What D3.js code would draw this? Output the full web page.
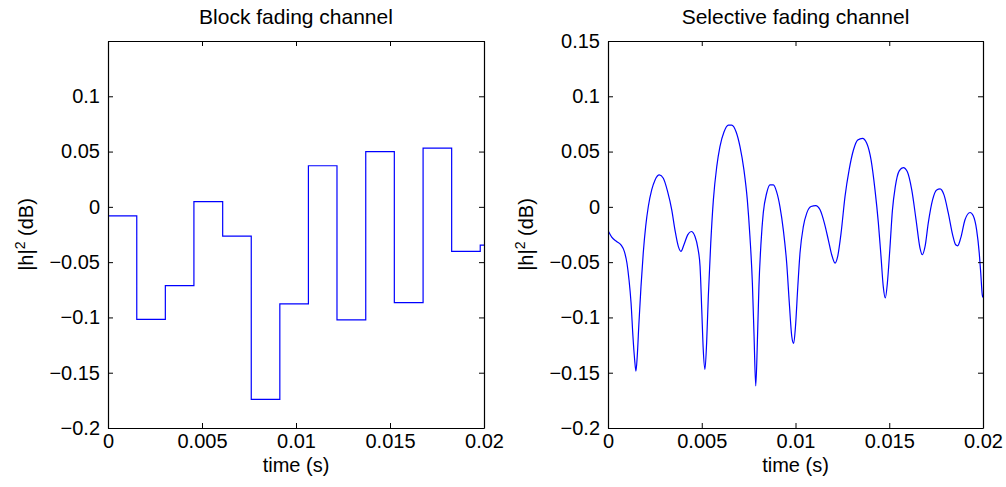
<!DOCTYPE html>
<html><head><meta charset="utf-8">
<script src="https://cdn.jsdelivr.net/npm/d3@7"></script>
<style>
body{margin:0;background:#fff}
svg text{font-family:"Liberation Sans",Arial,Helvetica,sans-serif;fill:#000}
</style>
</head><body>
<svg id="chart" width="1006" height="487"></svg>
<script>
// ---- data ----
const xTicks = [0, 0.005, 0.01, 0.015, 0.02];
const xTickLabels = ["0", "0.005", "0.01", "0.015", "0.02"];
const yTicksLeft = [-0.2, -0.15, -0.1, -0.05, 0, 0.05, 0.1];
const yTicksRight = [-0.2, -0.15, -0.1, -0.05, 0, 0.05, 0.1, 0.15];
const yTickLabels = ["\u22120.2", "\u22120.15", "\u22120.1", "\u22120.05", "0", "0.05", "0.1", "0.15"];
const titles = ["Block fading channel", "Selective fading channel"];
const xLabel = "time (s)";

// Block fading: start time of each block and its level (dB)
const blockStart = [0, 0.00153, 0.00305, 0.00457, 0.0061, 0.00762, 0.00914, 0.01066, 0.01218, 0.01371, 0.01523, 0.01676, 0.01828, 0.0198];
const blockLevel = [-0.0082, -0.1017, -0.0713, 0.0048, -0.0265, -0.1742, -0.0878, 0.0372, -0.1023, 0.0499, -0.0866, 0.0531, -0.0403, -0.0346];

// Selective fading: sampled curve
const selTime = [0, 0.0002, 0.00046, 0.00069, 0.00087, 0.00101, 0.00112, 0.00123, 0.00133, 0.00142, 0.00149, 0.00156, 0.00165, 0.00176, 0.00188, 0.00201, 0.00215, 0.00233, 0.00251, 0.00274, 0.00295, 0.00318, 0.0034, 0.00357, 0.00375, 0.00389, 0.00405, 0.00425, 0.00444, 0.00464, 0.0048,
  0.00491, 0.005, 0.00508, 0.00517, 0.00526, 0.00535, 0.00548, 0.00562, 0.0058, 0.00597, 0.00619, 0.00642, 0.0066, 0.00683, 0.00704, 0.00725, 0.00743, 0.00757, 0.0077, 0.00779, 0.00788, 0.00797, 0.00805, 0.00816, 0.00828, 0.00846, 0.00864, 0.00882, 0.00899, 0.00917, 0.00935, 0.00953, 0.00967, 0.0098, 0.0099,
  0.01, 0.01012, 0.01024, 0.01042, 0.0106, 0.01083, 0.01108, 0.01131, 0.01154, 0.01175, 0.01193, 0.01211, 0.01225, 0.01243, 0.01264, 0.01286, 0.01309, 0.01332, 0.01357, 0.0138, 0.01403, 0.01424, 0.01442, 0.01456, 0.01468, 0.01479, 0.0149, 0.01503, 0.01517, 0.01532,
  0.01554, 0.01575, 0.01596, 0.0162, 0.01643, 0.01664, 0.01676, 0.01691, 0.01708, 0.01731, 0.01753, 0.01771, 0.01792, 0.01815, 0.01838, 0.01854, 0.01865, 0.01881, 0.01904, 0.01931, 0.01948, 0.01966, 0.0198, 0.01988, 0.01996, 0.02];
const selLevel = [-0.0214, -0.0274, -0.0313, -0.0343, -0.0403, -0.0508, -0.0659, -0.0869, -0.117, -0.138, -0.1486, -0.135, -0.105, -0.0719, -0.0418, -0.0177, 0.0003, 0.0153, 0.0244, 0.0289, 0.0259, 0.0138, -0.0027, -0.0208, -0.0358, -0.0403, -0.0343, -0.0253, -0.0223, -0.0268, -0.038,
  -0.0539, -0.093, -0.129, -0.147, -0.123, -0.081, -0.0328, 0.0063, 0.0364, 0.0545, 0.068, 0.074, 0.074, 0.068, 0.0545, 0.0334, 0.0063, -0.0268, -0.0689, -0.117, -0.162, -0.12, -0.0719, -0.0328, -0.0057, 0.0123, 0.0199, 0.0199, 0.0138, 0.0003, -0.0208, -0.0508, -0.087, -0.117, -0.1236,
  -0.108, -0.073, -0.0418, -0.0177, -0.0057, 0.0003, 0.0012, -0.0027, -0.0147, -0.0298, -0.0433, -0.0508, -0.0448, -0.0238, 0.0093, 0.0334, 0.0514, 0.0605, 0.062, 0.0575, 0.0424, 0.0153, -0.0147, -0.0448, -0.0719, -0.0824, -0.0689, -0.0388, -0.003, 0.018,
  0.0328, 0.0355, 0.0319, 0.0153, -0.0117, -0.0373, -0.0433, -0.0358, -0.0147, 0.0063, 0.0153, 0.0162, 0.0108, -0.0057, -0.0253, -0.0343, -0.0352, -0.0283, -0.0117, -0.0051, -0.0081, -0.0208, -0.0418, -0.0599, -0.0794, -0.082];

// ---- layout ----
const svg = d3.select("#chart");
const plotTop = 41, plotBottom = 428;
const panels = [
  {x0: 108, x1: 484, yTicks: yTicksLeft, labelX: 33},
  {x0: 608, x1: 983, yTicks: yTicksRight, labelX: 533}
];
const FS = 20;

panels.forEach((p, i) => {
  const x = d3.scaleLinear().domain([0, 0.02]).range([p.x0, p.x1]);
  const y = d3.scaleLinear().domain([-0.2, 0.15]).range([plotBottom, plotTop]);
  const g = svg.append("g");

  const clipId = "clip" + i;
  svg.append("clipPath").attr("id", clipId).append("rect")
    .attr("x", p.x0).attr("y", plotTop).attr("width", p.x1 - p.x0).attr("height", plotBottom - plotTop);

  let pts, curve;
  if (i === 0) {
    pts = blockStart.map((t, k) => [t, blockLevel[k]]);
    pts.push([0.02, blockLevel[blockLevel.length - 1]]);
    curve = d3.curveStepAfter;
  } else {
    pts = selTime.map((t, k) => [t, selLevel[k]]);
    curve = d3.curveMonotoneX;
  }
  const line = d3.line().x(d => x(d[0])).y(d => y(d[1])).curve(curve);
  g.append("path").attr("d", line(pts)).attr("fill", "none")
    .attr("stroke", "#0000ff").attr("stroke-width", 1.2)
    .attr("clip-path", `url(#${clipId})`);

  const labelFor = v => yTickLabels[yTicksRight.indexOf(v)];
  const styleAxis = sel => {
    sel.selectAll("path.domain").attr("stroke", "#000").attr("stroke-width", 1.2);
    sel.selectAll(".tick line").attr("stroke", "#000").attr("stroke-width", 1);
    sel.selectAll("text").style("font-size", FS + "px").attr("fill", "#000");
  };

  const gb = g.append("g").attr("transform", `translate(0,${plotBottom})`)
    .call(d3.axisBottom(x).tickValues(xTicks).tickSizeInner(-5).tickSizeOuter(0).tickPadding(6)
      .tickFormat((d, k) => xTickLabels[k]));
  styleAxis(gb);
  const gt = g.append("g").attr("transform", `translate(0,${plotTop})`)
    .call(d3.axisTop(x).tickValues(xTicks).tickSizeInner(-5).tickSizeOuter(0).tickFormat(""));
  styleAxis(gt);
  const gl = g.append("g").attr("transform", `translate(${p.x0},0)`)
    .call(d3.axisLeft(y).tickValues(p.yTicks).tickSizeInner(-5).tickSizeOuter(0).tickPadding(8)
      .tickFormat(labelFor));
  styleAxis(gl);
  const gr = g.append("g").attr("transform", `translate(${p.x1},0)`)
    .call(d3.axisRight(y).tickValues(p.yTicks).tickSizeInner(-5).tickSizeOuter(0).tickFormat(""));
  styleAxis(gr);

  g.append("text").attr("x", (p.x0 + p.x1) / 2).attr("y", 24)
    .attr("text-anchor", "middle").style("font-size", "21px").text(titles[i]);
  g.append("text").attr("x", (p.x0 + p.x1) / 2).attr("y", 472)
    .attr("text-anchor", "middle").style("font-size", FS + "px").text(xLabel);
  const yl = g.append("text")
    .attr("transform", `translate(${p.labelX},${(plotTop + plotBottom) / 2}) rotate(-90)`)
    .attr("text-anchor", "middle").style("font-size", FS + "px");
  yl.append("tspan").text("|h|");
  yl.append("tspan").attr("dy", -8).style("font-size", "14px").text("2");
  yl.append("tspan").attr("dy", 8).text(" (dB)");
});
</script>
</body></html>
